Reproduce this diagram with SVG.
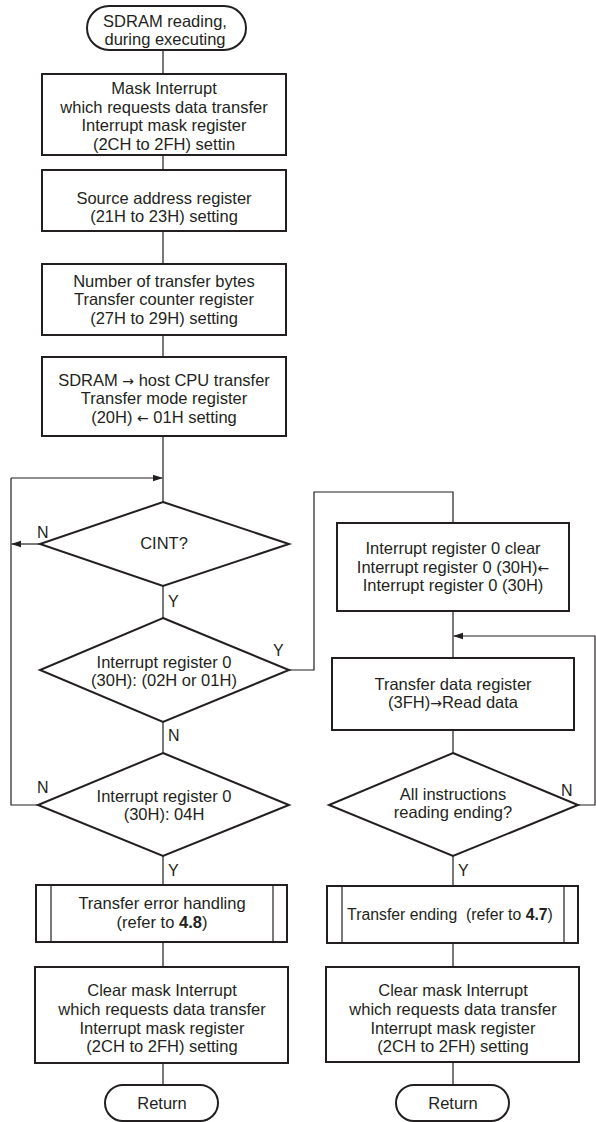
<svg xmlns="http://www.w3.org/2000/svg" width="596" height="1122" viewBox="0 0 596 1122">
<defs>
<style>
.b{fill:#fff;stroke:#231f20;stroke-width:2}
.c{fill:none;stroke:#231f20;stroke-width:1.2}
.t{font-family:"Liberation Sans",Arial,sans-serif;font-size:16.5px;fill:#231f20;text-anchor:middle}
.l{font-family:"Liberation Sans",Arial,sans-serif;font-size:16px;fill:#231f20}
.a{font-family:"DejaVu Sans",sans-serif;font-size:14px}
</style>
<marker id="ah" markerWidth="10" markerHeight="8" refX="9" refY="4" orient="auto" markerUnits="userSpaceOnUse">
<path d="M0,0.8 L10,4 L0,7.2 Z" fill="#231f20"/>
</marker>
</defs>
<rect width="596" height="1122" fill="#fff"/>
<g id="connectors">
<path class="c" d="M163,50 V74 M163,155 V170 M163,231 V263 M163,335 V357 M163,436 V502"/>
<path class="c" d="M11,478 H162" marker-end="url(#ah)"/>
<path class="c" d="M40,544 H12" marker-end="url(#ah)"/>
<path class="c" d="M38,805 H11 V478"/>
<path class="c" d="M163,586 V618 M163,722 V753 M163,856 V885 M163,942 V967 M163,1063 V1085"/>
<path class="c" d="M289,670 H314 V492 H453 V523"/>
<path class="c" d="M453,611 V658 M453,730 V753 M453,856 V886 M453,943 V967 M453,1062 V1085"/>
<path class="c" d="M578,805 H595 V636 H454" marker-end="url(#ah)"/>
</g>
<g id="start">
<rect class="b" x="87" y="6" width="159" height="44" rx="22" ry="22"/>
<text class="t" x="165" y="27">SDRAM reading,</text>
<text class="t" x="165" y="45">during executing</text>
</g>
<g id="mask">
<rect class="b" x="42" y="74" width="244" height="81"/>
<text class="t" x="164" y="94">Mask Interrupt</text>
<text class="t" x="164" y="112.5">which requests data transfer</text>
<text class="t" x="164" y="131">Interrupt mask register</text>
<text class="t" x="164" y="149.5">(2CH to 2FH) settin</text>
</g>
<g id="source">
<rect class="b" x="42" y="170" width="244" height="61"/>
<text class="t" x="164" y="204">Source address register</text>
<text class="t" x="164" y="222">(21H to 23H) setting</text>
</g>
<g id="count">
<rect class="b" x="42" y="264" width="244" height="71"/>
<text class="t" x="164" y="287">Number of transfer bytes</text>
<text class="t" x="164" y="305">Transfer counter register</text>
<text class="t" x="164" y="324">(27H to 29H) setting</text>
</g>
<g id="mode">
<rect class="b" x="42" y="357" width="244" height="79"/>
<text class="t" x="164" y="386">SDRAM <tspan class="a">→</tspan> host CPU transfer</text>
<text class="t" x="164" y="404">Transfer mode register</text>
<text class="t" x="164" y="423">(20H) <tspan class="a">←</tspan> 01H setting</text>
</g>
<g id="cint">
<polygon class="b" points="163,502 289,544 163,586 40,544"/>
<text class="t" x="164" y="549">CINT?</text>
<text class="l" x="37" y="538">N</text>
<text class="l" x="168" y="607">Y</text>
</g>
<g id="ir0a">
<polygon class="b" points="163,618 289,670 163,722 40,670"/>
<text class="t" x="164" y="668">Interrupt register 0</text>
<text class="t" x="164" y="686">(30H): (02H or 01H)</text>
<text class="l" x="273" y="656">Y</text>
<text class="l" x="168" y="741">N</text>
</g>
<g id="ir0b">
<polygon class="b" points="163,753 289,805 163,856 38,805"/>
<text class="t" x="164" y="802">Interrupt register 0</text>
<text class="t" x="164" y="820">(30H): 04H</text>
<text class="l" x="37" y="793">N</text>
<text class="l" x="168" y="876">Y</text>
</g>
<g id="errh">
<rect class="b" x="36" y="885" width="251" height="57"/>
<path class="c" d="M51,885 V942 M273,885 V942"/>
<text class="t" x="162" y="909">Transfer error handling</text>
<text class="t" x="162" y="928">(refer to <tspan font-weight="bold">4.8</tspan>)</text>
</g>
<g id="clearL">
<rect class="b" x="35" y="967" width="253" height="96"/>
<text class="t" x="162" y="996">Clear mask Interrupt</text>
<text class="t" x="162" y="1015">which requests data transfer</text>
<text class="t" x="162" y="1034">Interrupt mask register</text>
<text class="t" x="162" y="1052">(2CH to 2FH) setting</text>
</g>
<g id="returnL">
<rect class="b" x="105" y="1085" width="113" height="36" rx="18" ry="18"/>
<text class="t" x="162" y="1109">Return</text>
</g>
<g id="clr0">
<rect class="b" x="337" y="523" width="232" height="88"/>
<text class="t" x="453" y="554">Interrupt register 0 clear</text>
<text class="t" x="453" y="573">Interrupt register 0 (30H)<tspan class="a">←</tspan></text>
<text class="t" x="453" y="591">Interrupt register 0 (30H)</text>
</g>
<g id="tdr">
<rect class="b" x="332" y="658" width="242" height="72"/>
<text class="t" x="453" y="690">Transfer data register</text>
<text class="t" x="453" y="708">(3FH)<tspan class="a">→</tspan>Read data</text>
</g>
<g id="allend">
<polygon class="b" points="453,753 578,805 453,856 329,805"/>
<text class="t" x="453" y="800">All instructions</text>
<text class="t" x="453" y="818">reading ending?</text>
<text class="l" x="561" y="796">N</text>
<text class="l" x="458" y="876">Y</text>
</g>
<g id="tend">
<rect class="b" x="327" y="886" width="251" height="57"/>
<path class="c" d="M342,886 V943 M564,886 V943"/>
<text class="t" x="450" y="920" style="font-size:15.8px" xml:space="preserve">Transfer ending  (refer to <tspan font-weight="bold">4.7</tspan>)</text>
</g>
<g id="clearR">
<rect class="b" x="326" y="967" width="253" height="95"/>
<text class="t" x="453" y="996">Clear mask Interrupt</text>
<text class="t" x="453" y="1015">which requests data transfer</text>
<text class="t" x="453" y="1034">Interrupt mask register</text>
<text class="t" x="453" y="1052">(2CH to 2FH) setting</text>
</g>
<g id="returnR">
<rect class="b" x="396" y="1085" width="113" height="36" rx="18" ry="18"/>
<text class="t" x="453" y="1109">Return</text>
</g>
</svg>
